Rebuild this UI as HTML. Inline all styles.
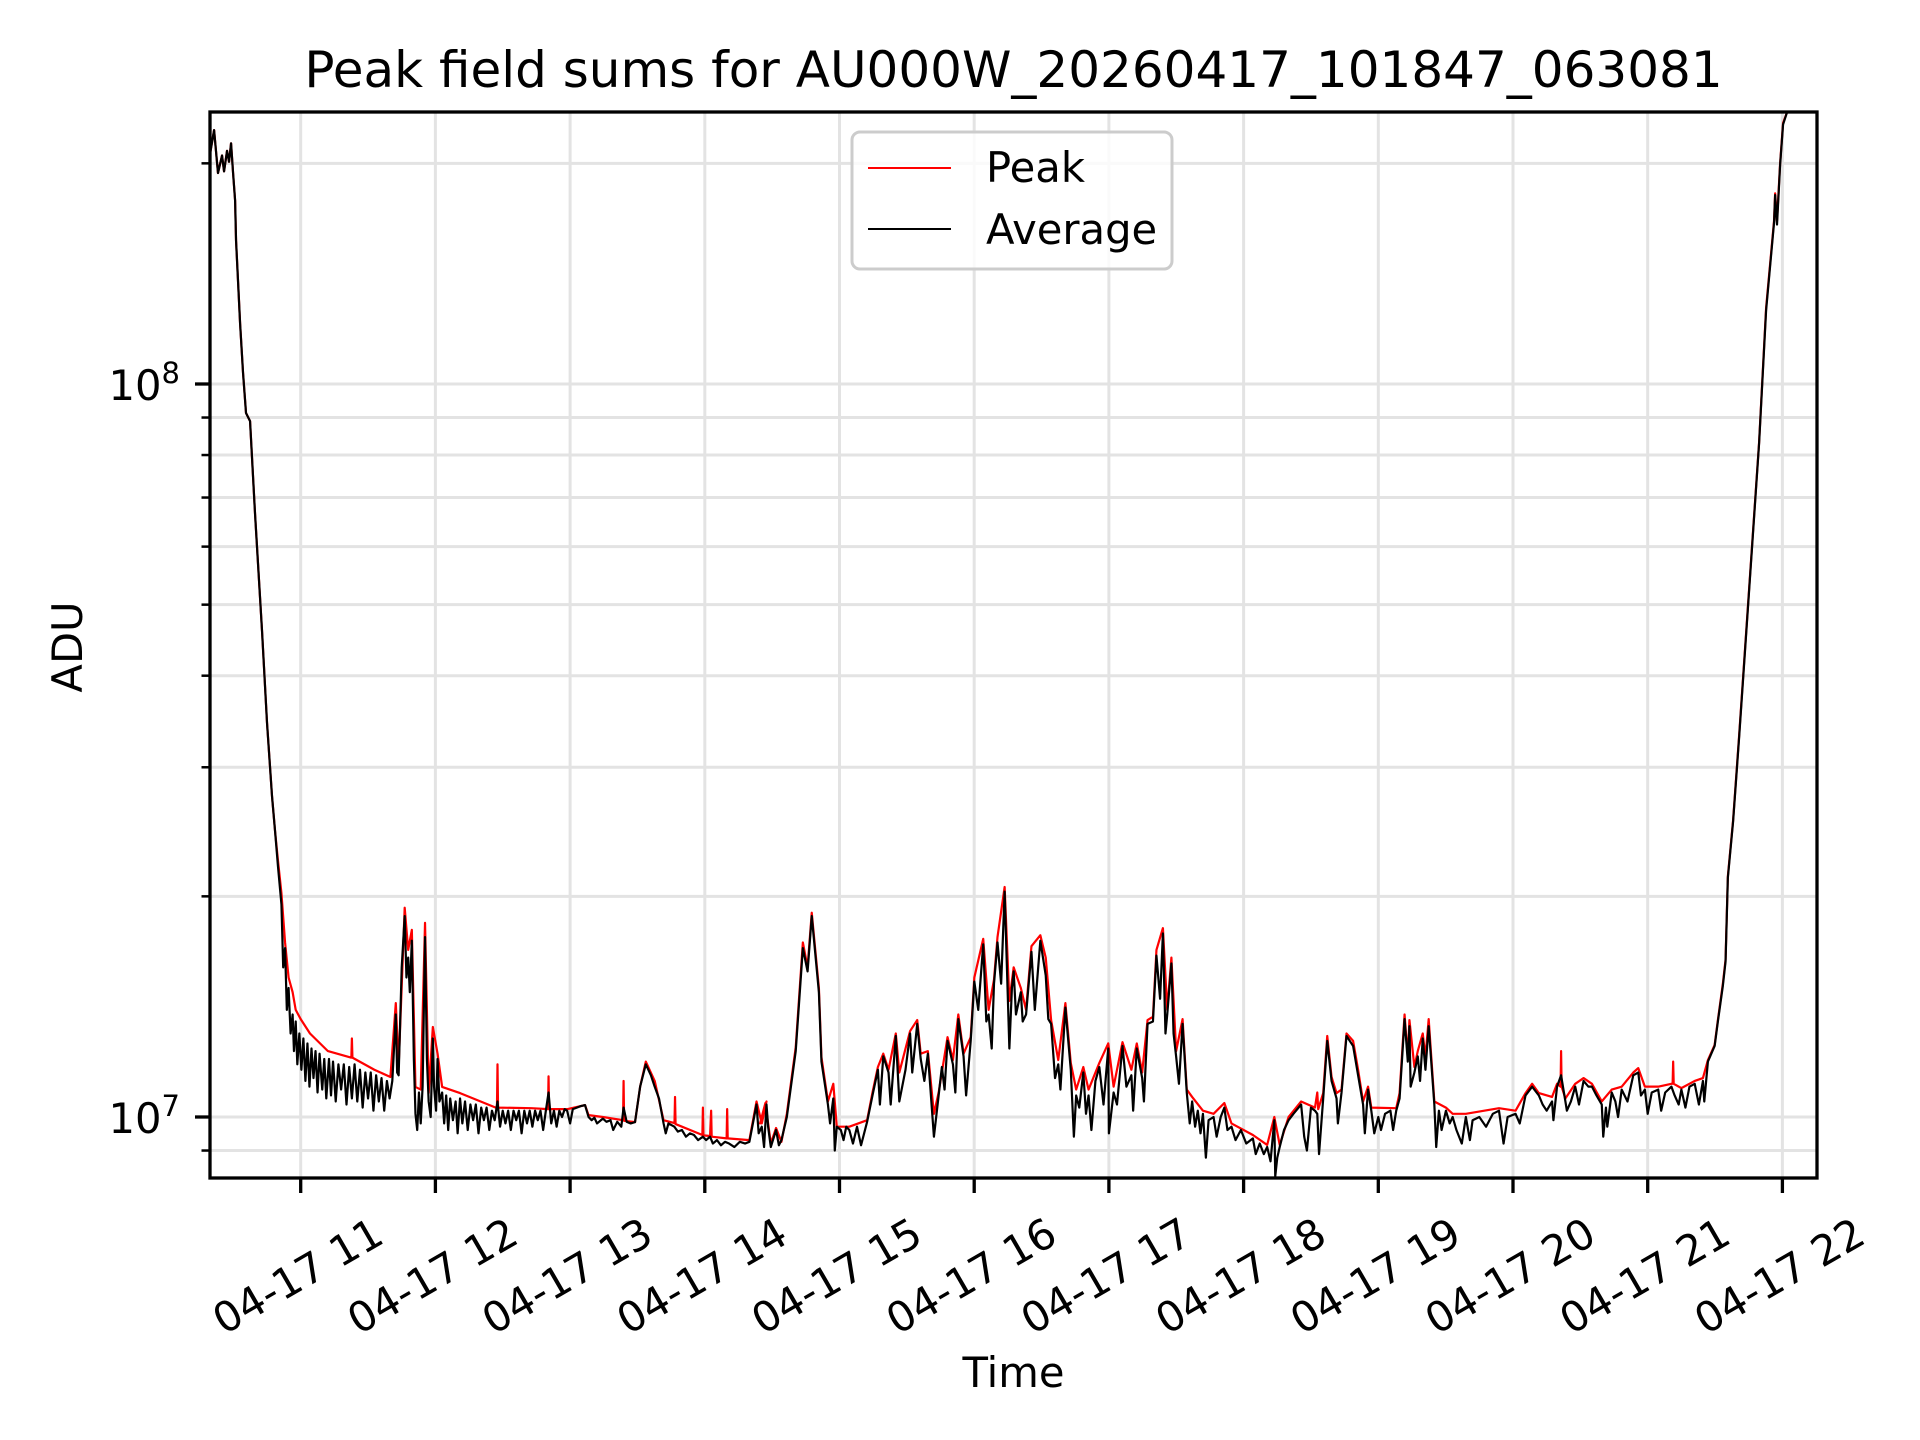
<!DOCTYPE html>
<html><head><meta charset="utf-8"><style>
html,body{margin:0;padding:0;background:#fff;}
svg{display:block;font-family:"DejaVu Sans","Liberation Sans",sans-serif;}
</style></head><body>
<svg id="chart" width="1920" height="1440" viewBox="0 0 1920 1440" xmlns="http://www.w3.org/2000/svg">
<rect width="1920" height="1440" fill="#fff"/>
<defs><clipPath id="plotclip"><rect x="210" y="112" width="1607" height="1066"/></clipPath></defs>
<g id="grid"></g>
<g id="series" clip-path="url(#plotclip)"></g>
<rect x="210" y="112" width="1607" height="1066" fill="none" stroke="#000" stroke-width="3.3"/>
<g id="axes"></g>
<text x="1013.5" y="87" font-size="50" text-anchor="middle">Peak field sums for AU000W_20260417_101847_063081</text>
<text x="1013.5" y="1387" font-size="41.7" text-anchor="middle">Time</text>
<text x="0" y="0" font-size="41.7" text-anchor="middle" transform="translate(82,647) rotate(-90)">ADU</text>
<g>
<rect x="852" y="132" width="320" height="137" rx="8" fill="#fff" fill-opacity="0.8" stroke="#cccccc" stroke-width="3"/>
<line x1="868" y1="168" x2="951" y2="168" stroke="#ff0000" stroke-width="2"/>
<text x="986" y="182" font-size="41.7">Peak</text>
<line x1="868" y1="229" x2="951" y2="229" stroke="#000" stroke-width="2"/>
<text x="986" y="244" font-size="41.7">Average</text>
</g>
</svg>
<script>
// time in decimal hours (2026-04-17), values in millions of ADU
const xTickHours = [11,12,13,14,15,16,17,18,19,20,21,22];
const xTickLabels = ["04-17 11","04-17 12","04-17 13","04-17 14","04-17 15","04-17 16","04-17 17","04-17 18","04-17 19","04-17 20","04-17 21","04-17 22"];
const yMajorTicks = [10, 100];
const yMajorLabels = ["7", "8"];
const yMinorTicks = [9,20,30,40,50,60,70,80,90,200];

const peakTimes = [10.327,10.357,10.386,10.416,10.431,10.453,10.468,10.483,10.498,10.513,10.520,10.550,10.572,10.594,10.624,10.661,10.713,10.750,10.787,10.81,
10.831,10.857,10.884,10.910,10.94,10.963,11.0,11.069,11.202,11.376,11.380,11.384,11.547,11.666,11.706,11.727,11.772,11.798,11.825,11.852,11.891,11.923,11.950,11.981,12.016,12.050,12.183,12.448,12.457,12.461,12.465,12.713,12.836,12.840,12.844,12.978,13.111,13.137,13.243,13.393,13.397,13.401,13.482,13.52,13.562,13.628,13.694,13.774,13.775,13.779,13.783,13.982,13.986,13.99,14.039,14.047,14.051,14.162,14.166,14.170,14.331,14.384,14.423,14.458,
14.410,14.450,14.490,14.529,14.569,14.609,14.675,14.728,14.763,14.794,14.847,14.866,14.914,14.954,14.980,15.073,15.205,15.245,15.285,15.325,15.364,15.418,15.444,15.524,15.577,15.603,15.656,15.701,15.736,15.802,15.842,15.882,15.921,15.974,16.001,16.067,16.107,16.147,16.173,16.226,16.261,16.293,16.346,16.385,16.425,16.491,16.531,16.571,16.624,16.677,16.717,16.757,16.810,16.849,16.929,16.995,17.035,17.101,17.167,17.207,17.247,17.287,17.327,17.353,17.401,17.433,17.464,17.499,17.547,17.578,17.618,17.698,17.777,17.857,17.910,18.069,18.175,18.228,18.268,18.334,18.427,
18.530,18.547,18.554,18.591,18.621,18.653,18.690,18.727,18.764,18.813,18.850,18.887,18.924,18.948,19.133,19.158,19.195,19.219,19.231,19.268,19.293,19.330,19.350,19.374,19.416,19.502,19.552,19.650,19.896,20.019,20.093,20.142,20.192,20.290,20.327,20.353,20.357,20.361,20.389,20.462,20.524,20.586,20.659,20.733,20.807,20.893,20.930,20.979,21.078,21.176,21.185,21.189,21.193,21.250,21.349,21.410,21.447,21.497,21.521,21.558,21.578,21.595,21.634,21.679,21.753,21.827,21.879,21.938,21.946,21.960,21.983,22.005,22.035,22.1];
const peakValues = [206,222,194,205,195,208,201,213,194,178,157,121,103.5,91.3,89,66.5,46,34.5,27.4,24.5,
22.4,20.2,17.3,15.5,14.8,14.0,13.6,13.0,12.3,12.05,12.8,12.05,11.6,11.34,14.3,11.7,19.3,16.9,18.0,10.99,10.9,18.4,10.78,13.27,12.2,10.99,10.78,10.3,10.3,11.8,10.3,10.28,10.25,11.36,10.25,10.25,10.38,10.06,10.0,9.9,11.2,9.88,9.84,11.0,11.9,11.2,9.9,9.81,9.81,10.65,9.78,9.45,10.3,9.44,9.42,10.2,9.4,9.35,10.25,9.35,9.3,10.5,9.8,10.5,
9.8,10.45,9.2,9.66,9.25,10.1,12.45,17.3,16.0,19.0,15.0,12.07,10.5,11.1,9.7,9.7,9.9,10.8,11.7,12.2,11.6,13.0,11.5,13.1,13.56,12.2,12.3,10.1,10.8,12.85,11.96,13.8,12.2,12.85,15.5,17.5,14.0,15.4,17.6,20.6,14.4,16.0,15.0,14.0,17.1,17.7,16.5,13.56,11.96,14.3,11.85,10.9,11.7,10.9,11.85,12.6,11.0,12.65,11.6,12.6,11.5,13.56,13.7,16.9,18.1,14.0,16.5,12.3,13.6,10.9,10.65,10.2,10.1,10.45,9.8,9.45,9.16,10.0,9.16,10.0,10.5,
10.3,10.8,10.25,10.78,12.9,11.34,10.78,10.9,13.0,12.7,11.6,10.5,11.0,10.3,10.28,10.78,13.8,12.07,13.56,11.7,12.3,13.0,12.07,13.6,10.5,10.3,10.1,10.1,10.28,10.2,10.78,11.1,10.78,10.65,11.1,11.0,12.3,11.0,10.6,11.1,11.3,11.1,10.5,10.9,11.0,11.5,11.66,11.0,11.0,11.1,11.1,11.9,11.1,10.95,11.2,11.3,11.96,12.54,13.56,15.2,16.4,21.3,25.4,33.2,52.6,83.3,127,167,182,167,200,227,235,240];

const avgTimes = [10.327,10.357,10.386,10.416,10.431,10.453,10.468,10.483,10.498,10.513,10.520,10.550,10.572,10.594,10.624,10.661,10.713,10.750,10.787,10.81,
10.831,10.857,10.870,10.884,10.897,10.910,10.925,10.940,10.950,10.963,10.975,10.990,11.005,11.02,11.035,11.05,11.065,11.08,11.095,11.11,11.125,11.14,11.16,11.175,11.19,11.21,11.225,11.24,11.26,11.28,11.30,11.32,11.34,11.36,11.38,11.40,11.42,11.44,11.46,11.48,11.50,11.52,11.54,11.56,11.58,11.60,11.62,11.64,11.66,11.68,
11.706,11.716,11.727,11.75,11.772,11.785,11.798,11.81,11.825,11.840,11.852,11.865,11.878,11.891,11.905,11.923,11.937,11.950,11.965,11.981,11.99,12.005,12.016,12.03,12.05,12.065,12.08,12.095,12.11,12.13,12.15,12.165,12.183,12.20,12.22,12.24,12.26,12.28,12.30,12.32,12.34,12.36,12.38,12.40,12.42,12.44,12.461,12.48,12.50,12.52,12.54,12.56,12.58,12.60,12.62,12.64,12.66,12.68,12.70,12.72,12.74,12.76,12.78,12.80,12.82,12.84,12.86,12.88,12.90,12.92,12.94,12.96,12.978,13.00,13.02,13.05,13.08,13.111,13.137,13.16,13.18,13.20,13.243,13.27,13.30,13.32,13.35,13.38,13.397,13.42,13.45,13.482,13.52,13.562,13.60,13.628,13.66,13.694,13.71,13.73,13.774,13.80,13.83,13.86,13.89,13.92,13.95,13.986,14.01,14.039,14.06,14.09,14.12,14.15,14.18,14.22,14.26,14.30,14.331,14.384,14.40,14.423,14.44,14.458,
14.470,14.490,14.529,14.55,14.569,14.609,14.675,14.728,14.763,14.794,14.847,14.866,14.914,14.93,14.954,14.965,14.980,15.01,15.03,15.05,15.073,15.10,15.13,15.16,15.205,15.245,15.285,15.30,15.325,15.364,15.38,15.418,15.444,15.49,15.524,15.54,15.577,15.603,15.63,15.656,15.701,15.736,15.76,15.78,15.802,15.842,15.86,15.882,15.921,15.94,15.974,16.001,16.03,16.067,16.09,16.107,16.13,16.147,16.173,16.20,16.226,16.261,16.28,16.293,16.31,16.346,16.36,16.385,16.425,16.45,16.491,16.531,16.55,16.571,16.60,16.624,16.64,16.677,16.717,16.74,16.757,16.78,16.810,16.83,16.849,16.87,16.90,16.929,16.96,16.995,17.0,17.035,17.06,17.101,17.13,17.167,17.18,17.207,17.247,17.26,17.287,17.327,17.353,17.38,17.401,17.42,17.433,17.464,17.48,17.499,17.52,17.547,17.578,17.60,17.618,17.64,17.66,17.68,17.698,17.72,17.74,17.777,17.80,17.83,17.857,17.88,17.910,17.94,17.98,18.02,18.069,18.09,18.12,18.15,18.175,18.20,18.228,18.235,18.25,18.268,18.30,18.334,18.37,18.427,18.45,18.47,18.50,18.530,18.547,18.56,18.591,18.621,18.653,18.690,18.70,18.727,18.764,18.813,18.850,18.887,18.90,18.924,18.948,18.97,19.0,19.02,19.05,19.09,19.11,19.133,19.158,19.195,19.219,19.231,19.24,19.268,19.293,19.31,19.330,19.350,19.374,19.416,19.43,19.45,19.47,19.502,19.53,19.552,19.58,19.62,19.650,19.68,19.70,19.75,19.80,19.85,19.896,19.93,19.96,20.019,20.05,20.093,20.142,20.192,20.22,20.25,20.29,20.30,20.327,20.357,20.389,20.40,20.43,20.462,20.49,20.524,20.56,20.586,20.62,20.659,20.67,20.69,20.70,20.733,20.76,20.78,20.807,20.85,20.893,20.930,20.95,20.979,21.0,21.03,21.078,21.10,21.13,21.176,21.20,21.23,21.250,21.28,21.31,21.349,21.38,21.410,21.42,21.447,21.497,21.521,21.558,21.578,21.595,21.634,21.679,21.753,21.827,21.879,21.938,21.946,21.960,21.983,22.005,22.035,22.1];
const avgValues = [206,222,194,205,195,208,201,213,194,178,157,121,103.5,91.3,89,66.5,46,34.5,27.4,24.5,
22.0,19.5,16.0,17.0,14.0,15.0,13.0,13.8,12.3,13.5,11.8,13.0,11.6,12.8,11.2,12.6,11.0,12.4,11.3,12.3,10.8,12.2,10.9,12.0,10.6,12.0,10.7,11.9,10.5,11.8,10.9,11.8,10.4,11.7,10.6,11.8,10.5,11.6,10.3,11.5,10.6,11.5,10.2,11.4,10.5,11.3,10.2,11.2,10.6,11.2,
13.8,11.5,11.4,16,18.8,15.5,16.5,14.8,17.4,12,10.1,9.6,10.8,9.8,11.0,17.6,12,10.5,10.0,12.8,11.0,10.2,12.0,10.5,10.8,9.8,10.7,9.6,10.6,9.9,10.5,9.5,10.6,9.8,10.5,9.6,10.4,9.9,10.4,9.5,10.3,9.9,10.3,9.6,10.2,9.9,10.5,9.7,10.2,9.8,10.2,9.6,10.2,9.9,10.2,9.5,10.2,9.8,10.2,9.7,10.2,9.9,10.2,9.6,10.2,10.8,9.8,10.2,9.7,10.2,10.0,10.25,10.2,9.8,10.25,10.3,10.35,10.38,10.0,9.9,9.98,9.8,9.95,9.85,9.9,9.6,9.85,9.7,10.3,9.85,9.8,9.84,11.0,11.8,11.4,11.0,10.6,9.8,9.5,9.8,9.7,9.55,9.6,9.4,9.5,9.45,9.3,9.4,9.3,9.4,9.2,9.3,9.15,9.25,9.2,9.1,9.25,9.2,9.25,10.4,9.5,9.7,9.1,10.4,
9.7,9.1,9.6,9.15,9.3,10.0,12.3,17.0,15.8,18.8,14.8,11.9,10.4,9.8,10.6,9.0,9.7,9.6,9.3,9.7,9.6,9.2,9.7,9.15,9.85,10.7,11.6,10.4,12.1,11.5,10.4,12.9,10.5,11.6,13.0,11.5,13.4,12.0,11.2,12.2,9.4,10.7,11.7,10.9,12.7,11.8,10.8,13.6,12.1,10.7,12.7,15.3,14.0,17.2,13.5,13.8,12.4,15.2,17.3,15.2,20.3,12.4,15.0,15.8,13.8,14.8,13.5,13.8,16.8,14.0,17.4,15.6,13.6,13.4,11.3,11.8,10.9,14.1,11.6,9.4,10.7,10.3,11.5,10.1,10.7,9.6,11.2,11.7,10.4,12.4,9.5,10.8,10.4,12.5,11.0,11.4,10.2,12.4,11.3,10.5,13.4,13.5,16.6,14.5,17.8,13.0,13.8,16.2,13.0,12.1,11.1,13.4,10.8,9.8,10.5,9.7,10.2,9.5,10.1,8.8,9.9,10.0,9.4,10.0,10.3,9.6,9.7,9.3,9.6,9.2,9.35,8.9,9.2,8.9,9.1,8.7,9.9,8.3,8.8,9.1,9.6,9.9,10.1,10.4,9.4,9.0,10.3,10.2,10.1,8.9,10.6,12.7,11.2,10.6,9.8,10.8,12.9,12.5,11.4,10.4,9.5,10.9,10.2,9.5,10.0,9.6,10.1,10.2,9.6,10.2,10.6,13.6,11.9,13.3,11.0,11.5,12.1,11.2,12.8,11.6,13.3,10.4,9.1,10.2,9.6,10.2,9.8,10.0,9.6,9.2,10.0,9.3,9.9,10.0,9.7,10.1,10.2,9.2,10.0,10.1,9.8,10.7,11.0,10.7,10.4,10.2,10.5,9.9,11.0,11.4,10.5,10.2,10.5,11.0,10.4,11.2,11.0,11.0,10.7,10.4,9.4,10.3,9.7,10.8,10.5,10.0,10.9,10.5,11.4,11.5,10.7,10.9,10.1,10.8,10.9,10.2,10.8,11.0,10.7,10.4,10.9,10.3,11.0,11.1,10.4,11.2,10.5,11.9,12.5,13.5,15.1,16.3,21.2,25.3,33.0,52.3,83.0,126,166,181,165,199,226,235,240];

const NS = "http://www.w3.org/2000/svg";
function xScale(h){ return 300.7 + (h - 11) * 134.7; }
function yScale(vM){ return 1117 - Math.log10(vM / 10) * 733; }
function mk(tag, attrs, parent){
  const el = document.createElementNS(NS, tag);
  for (const k in attrs) el.setAttribute(k, attrs[k]);
  parent.appendChild(el);
  return el;
}
const grid = document.getElementById('grid');
const axes = document.getElementById('axes');
const series = document.getElementById('series');

// grid lines
xTickHours.forEach((h, i) => {
  const x = xScale(h);
  if (x > 210 && x < 1817) {
    const g = mk('line', {x1:x, x2:x, y1:112, y2:1178, stroke:'#e3e3e3', 'stroke-width':3}, grid);
    
    
  }
});
yMajorTicks.concat(yMinorTicks).forEach(v => {
  const y = yScale(v);
  const g = mk('line', {x1:210, x2:1817, y1:y, y2:y, stroke:'#e3e3e3', 'stroke-width':3}, grid);
  
  
});

// x ticks and labels
xTickHours.forEach((h, i) => {
  const x = xScale(h);
  const t = mk('line', {x1:x, x2:x, y1:1178, y2:1193, stroke:'#000', 'stroke-width':3.3}, axes);
  
  
  const lbl = mk('text', {x:0, y:0, 'font-size':41.7, 'text-anchor':'middle', 'dominant-baseline':'central',
    transform:'translate(' + (x - 3) + ',1276) rotate(-30)'}, axes);
  lbl.textContent = xTickLabels[i];
  
  
});

// y ticks
yMajorTicks.forEach((v, i) => {
  const y = yScale(v);
  const t = mk('line', {x1:195, x2:210, y1:y, y2:y, stroke:'#000', 'stroke-width':3.3}, axes);
  
  
  const lbl = mk('text', {x:180, y:y + 16, 'font-size':41.7, 'text-anchor':'end'}, axes);
  const base = document.createElementNS(NS, 'tspan');
  base.textContent = '10';
  lbl.appendChild(base);
  const sup = document.createElementNS(NS, 'tspan');
  sup.setAttribute('font-size', '29');
  sup.setAttribute('dy', '-17');
  sup.textContent = yMajorLabels[i];
  lbl.appendChild(sup);
  
  
});
yMinorTicks.forEach(v => {
  const y = yScale(v);
  const t = mk('line', {x1:201.5, x2:210, y1:y, y2:y, stroke:'#000', 'stroke-width':2.5}, axes);
  
  
});

function pathFrom(times, values){
  let d = '';
  times.forEach((t, i) => { d += (i ? 'L' : 'M') + xScale(t).toFixed(2) + ',' + yScale(values[i]).toFixed(2); });
  return d;
}
const peakLine = mk('path', {d:pathFrom(peakTimes, peakValues), fill:'none', stroke:'#ff0000', 'stroke-width':2.2, 'stroke-linejoin':'round'}, series);


const avgLine = mk('path', {d:pathFrom(avgTimes, avgValues), fill:'none', stroke:'#000000', 'stroke-width':2.2, 'stroke-linejoin':'round'}, series);


</script>
</body></html>
